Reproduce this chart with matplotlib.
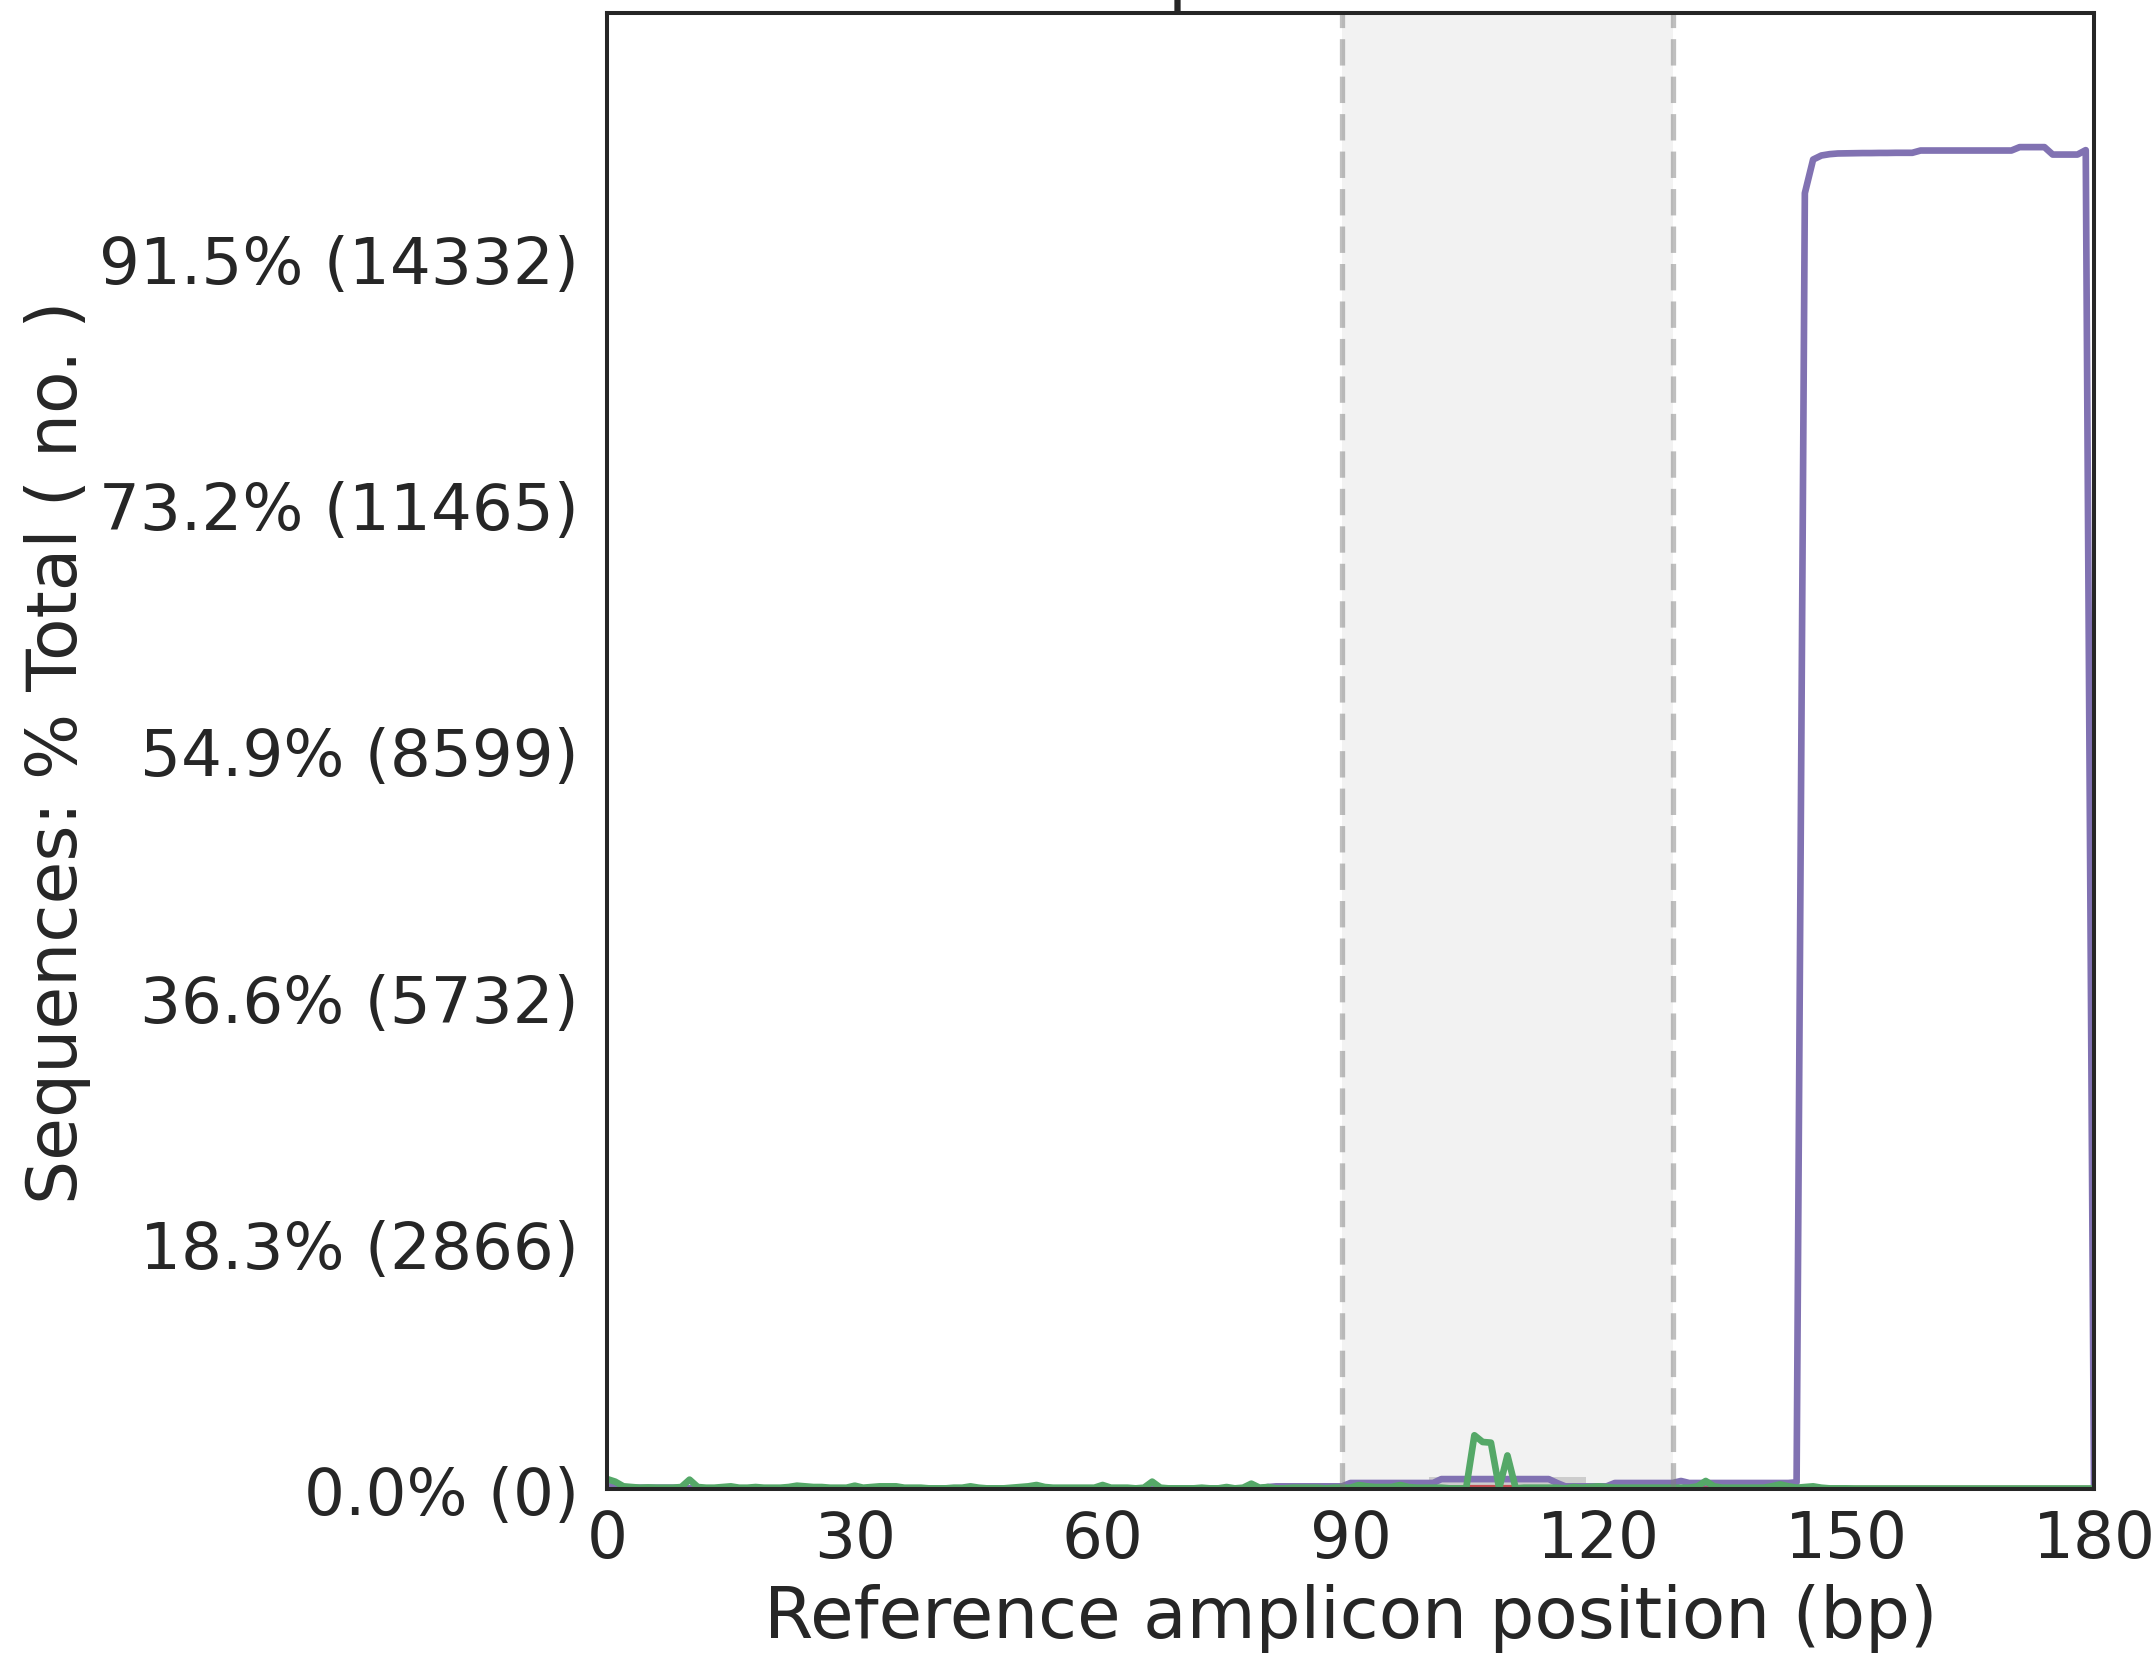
import matplotlib
matplotlib.use("Agg")
import matplotlib.pyplot as plt
import matplotlib.patches as patches
import numpy as np

# total number of reads
n_total = 15663

# percentage of reads with a modification at each amplicon position (0..180)
deletions_pct = [
    0.20, 0.20, 0.15, 0.10, 0.10, 0.10, 0.10, 0.10, 0.10, 0.10,
    0.05, 0.05, 0.05, 0.05, 0.05, 0.05, 0.05, 0.05, 0.05, 0.05,
    0.05, 0.05, 0.05, 0.05, 0.05, 0.05, 0.05, 0.05, 0.05, 0.05,
    0.05, 0.05, 0.05, 0.05, 0.05, 0.05, 0.05, 0.05, 0.05, 0.05,
    0.05, 0.05, 0.05, 0.05, 0.05, 0.05, 0.05, 0.05, 0.05, 0.05,
    0.05, 0.05, 0.05, 0.05, 0.05, 0.05, 0.05, 0.05, 0.05, 0.05,
    0.05, 0.05, 0.05, 0.05, 0.05, 0.05, 0.05, 0.05, 0.05, 0.05,
    0.05, 0.05, 0.05, 0.05, 0.05, 0.05, 0.05, 0.05, 0.05, 0.05,
    0.15, 0.20, 0.20, 0.20, 0.20, 0.20, 0.20, 0.20, 0.20, 0.20,
    0.45, 0.45, 0.45, 0.45, 0.45, 0.45, 0.45, 0.45, 0.45, 0.45,
    0.45, 0.74, 0.74, 0.74, 0.74, 0.74, 0.74, 0.74, 0.74, 0.74,
    0.74, 0.74, 0.74, 0.74, 0.74, 0.45, 0.20, 0.20, 0.20, 0.20,
    0.20, 0.20, 0.45, 0.45, 0.45, 0.45, 0.45, 0.45, 0.45, 0.45,
    0.60, 0.45, 0.45, 0.45, 0.45, 0.45, 0.45, 0.45, 0.45, 0.45,
    0.45, 0.45, 0.45, 0.45, 0.50, 96.40, 98.90, 99.20, 99.30, 99.35,
    99.36, 99.37, 99.38, 99.38, 99.39, 99.39, 99.40, 99.40, 99.40, 99.57,
    99.57, 99.57, 99.57, 99.57, 99.57, 99.57, 99.57, 99.57, 99.57, 99.57,
    99.57, 99.823, 99.823, 99.823, 99.823, 99.27, 99.27, 99.27, 99.27, 99.60,
    0.00,
]

substitutions_pct = [
    0.75, 0.55, 0.20, 0.15, 0.10, 0.12, 0.10, 0.10, 0.10, 0.15,
    0.70, 0.15, 0.10, 0.10, 0.15, 0.20, 0.10, 0.10, 0.15, 0.10,
    0.10, 0.10, 0.15, 0.25, 0.20, 0.15, 0.15, 0.10, 0.10, 0.10,
    0.25, 0.10, 0.15, 0.20, 0.20, 0.20, 0.10, 0.10, 0.10, 0.05,
    0.05, 0.05, 0.10, 0.10, 0.20, 0.10, 0.05, 0.05, 0.05, 0.10,
    0.15, 0.20, 0.30, 0.15, 0.10, 0.10, 0.10, 0.10, 0.10, 0.10,
    0.30, 0.10, 0.10, 0.10, 0.05, 0.10, 0.55, 0.10, 0.05, 0.05,
    0.05, 0.05, 0.10, 0.05, 0.05, 0.15, 0.05, 0.10, 0.40, 0.10,
    0.15, 0.05, 0.05, 0.10, 0.10, 0.10, 0.10, 0.05, 0.10, 0.10,
    0.10, 0.30, 0.20, 0.15, 0.15, 0.15, 0.30, 0.15, 0.10, 0.10,
    0.10, 0.10, 0.05, 0.05, 0.05, 4.00, 3.50, 3.45, 0.05, 2.50,
    0.05, 0.10, 0.10, 0.10, 0.10, 0.10, 0.05, 0.15, 0.10, 0.15,
    0.20, 0.15, 0.10, 0.10, 0.10, 0.10, 0.10, 0.10, 0.10, 0.10,
    0.10, 0.10, 0.20, 0.60, 0.20, 0.10, 0.10, 0.10, 0.10, 0.10,
    0.10, 0.20, 0.35, 0.20, 0.10, 0.15, 0.20, 0.10, 0.05, 0.05,
    0.05, 0.04, 0.04, 0.04, 0.04, 0.04, 0.04, 0.04, 0.04, 0.04,
    0.04, 0.04, 0.04, 0.04, 0.04, 0.04, 0.04, 0.04, 0.04, 0.04,
    0.04, 0.04, 0.04, 0.04, 0.04, 0.04, 0.04, 0.04, 0.04, 0.04,
    0.04,
]

insertions_pct = [
    0.00, 0.00, 0.00, 0.00, 0.00, 0.00, 0.00, 0.00, 0.00, 0.00,
    0.00, 0.00, 0.00, 0.00, 0.00, 0.00, 0.00, 0.00, 0.00, 0.00,
    0.00, 0.00, 0.00, 0.00, 0.00, 0.00, 0.00, 0.00, 0.00, 0.00,
    0.00, 0.00, 0.00, 0.00, 0.00, 0.00, 0.00, 0.00, 0.00, 0.00,
    0.00, 0.00, 0.00, 0.00, 0.00, 0.00, 0.00, 0.00, 0.00, 0.00,
    0.00, 0.00, 0.00, 0.00, 0.00, 0.00, 0.00, 0.00, 0.00, 0.00,
    0.00, 0.00, 0.00, 0.00, 0.00, 0.00, 0.00, 0.00, 0.00, 0.00,
    0.00, 0.00, 0.00, 0.00, 0.00, 0.00, 0.00, 0.00, 0.00, 0.00,
    0.00, 0.00, 0.00, 0.00, 0.00, 0.00, 0.00, 0.00, 0.00, 0.00,
    0.00, 0.00, 0.00, 0.00, 0.00, 0.00, 0.00, 0.00, 0.00, 0.00,
    0.00, 0.05, 0.05, 0.05, 0.06, 0.06, 0.06, 0.06, 0.06, 0.06,
    0.06, 0.05, 0.05, 0.05, 0.00, 0.00, 0.00, 0.00, 0.00, 0.00,
    0.00, 0.00, 0.00, 0.00, 0.00, 0.00, 0.00, 0.00, 0.00, 0.00,
    0.00, 0.00, 0.00, 0.00, 0.00, 0.00, 0.00, 0.00, 0.00, 0.00,
    0.00, 0.00, 0.00, 0.00, 0.00, 0.00, 0.00, 0.00, 0.00, 0.00,
    0.00, 0.00, 0.00, 0.00, 0.00, 0.00, 0.00, 0.00, 0.00, 0.00,
    0.00, 0.00, 0.00, 0.00, 0.00, 0.00, 0.00, 0.00, 0.00, 0.00,
    0.00, 0.00, 0.00, 0.00, 0.00, 0.00, 0.00, 0.00, 0.00, 0.00,
    0.00,
]

# quantification window and sgRNA
window_start, window_end = 89, 129
sgrna_start, sgrna_end = 99.5, 118.5
xticks = [0, 30, 60, 90, 120, 150, 180]

plot_title = "Mutation position distribution"

ins = np.array(insertions_pct) / 100.0 * n_total
dels = np.array(deletions_pct) / 100.0 * n_total
subs = np.array(substitutions_pct) / 100.0 * n_total
pos = np.arange(len(dels))

y_max = max(ins.max(), dels.max(), subs.max()) * 1.1

text_col = "#262626"
plt.rcParams["font.family"] = "DejaVu Sans"
plt.rcParams["text.color"] = text_col
plt.rcParams["xtick.color"] = text_col
plt.rcParams["ytick.color"] = text_col
plt.rcParams["axes.labelcolor"] = text_col

fig = plt.figure(figsize=(21.53, 16.58), dpi=100)
ax = fig.add_axes([0.2819, 0.1013, 0.6907, 0.8903])

ax.plot(pos, ins, color="#C44E52", lw=4.8, label="Insertions")
ax.plot(pos, dels, color="#8172B2", lw=4.8, label="Deletions")
ax.plot(pos, subs, color="#55A868", lw=4.8, label="Substitutions")

ax.add_patch(patches.Rectangle((window_start, 0), window_end - window_start, y_max,
                               facecolor=(0, 0, 0, 0.05), edgecolor=(0, 0, 0, 0)))
ax.plot([window_start, window_start], [0, y_max], color=(0.5, 0.5, 0.5, 0.5),
        lw=3.8, dashes=(5.0, 2.1))
ax.plot([window_end, window_end], [0, y_max], color=(0.5, 0.5, 0.5, 0.5),
        lw=3.8, dashes=(5.0, 2.1))
ax.add_patch(patches.Rectangle((sgrna_start, 0), sgrna_end - sgrna_start, y_max * 0.008,
                               facecolor=(0, 0, 0, 0.15), edgecolor=(0, 0, 0, 0)))

ax.set_xlim(0, len(dels) - 1)
ax.set_ylim(0, y_max)
yticks = np.arange(0, y_max, y_max / 6)
ax.set_yticks(yticks)
ax.set_yticklabels(["%.1f%% (%d)" % (v / n_total * 100, v) for v in yticks])
ax.set_xticks(xticks)

ax.tick_params(axis="both", length=0, labelsize=46.4)
ax.tick_params(axis="x", pad=14)
ax.tick_params(axis="y", pad=20)
for sp in ax.spines.values():
    sp.set_color(text_col)
    sp.set_linewidth(2.9)

ax.set_ylabel("Sequences: % Total ( no. )", fontsize=50, labelpad=6)
ax.set_xlabel("Reference amplicon position (bp)", fontsize=51, labelpad=9)
ax.set_title(plot_title, fontsize=50, pad=11.5)

fig.savefig("out.png", dpi=100)
